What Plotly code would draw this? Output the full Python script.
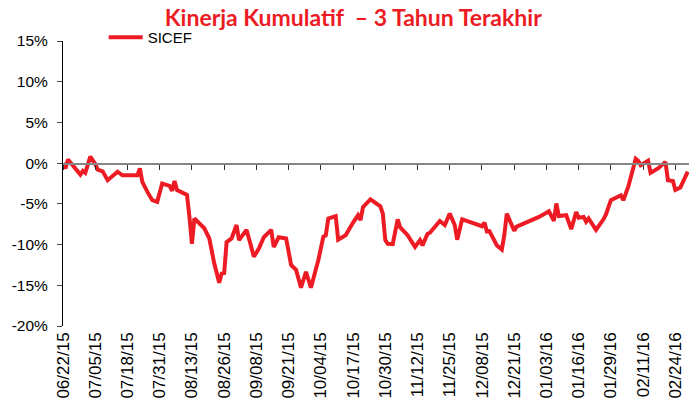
import plotly.graph_objects as go
import pandas as pd

# --- data ---
dates = [
    "2015-06-22", "2015-06-23", "2015-06-24", "2015-06-26", "2015-06-28", "2015-06-29",
    "2015-06-30", "2015-07-01", "2015-07-03", "2015-07-05", "2015-07-06", "2015-07-08",
    "2015-07-10", "2015-07-12", "2015-07-14", "2015-07-16", "2015-07-22", "2015-07-23",
    "2015-07-24", "2015-07-26", "2015-07-28", "2015-07-30", "2015-08-01", "2015-08-03",
    "2015-08-04", "2015-08-05", "2015-08-06", "2015-08-07", "2015-08-11", "2015-08-12",
    "2015-08-13", "2015-08-14", "2015-08-18", "2015-08-20", "2015-08-22", "2015-08-24",
    "2015-08-25", "2015-08-26", "2015-08-27", "2015-08-29", "2015-08-31", "2015-09-01",
    "2015-09-04", "2015-09-05", "2015-09-07", "2015-09-09", "2015-09-11", "2015-09-14",
    "2015-09-15", "2015-09-17", "2015-09-20", "2015-09-22", "2015-09-24", "2015-09-26",
    "2015-09-28", "2015-09-30", "2015-10-03", "2015-10-05", "2015-10-06", "2015-10-07",
    "2015-10-10", "2015-10-11", "2015-10-14", "2015-10-17", "2015-10-19", "2015-10-20",
    "2015-10-21", "2015-10-24", "2015-10-28", "2015-10-29", "2015-10-30", "2015-10-31",
    "2015-11-02", "2015-11-04", "2015-11-05", "2015-11-08", "2015-11-11", "2015-11-13",
    "2015-11-14", "2015-11-16", "2015-11-17", "2015-11-21", "2015-11-23", "2015-11-25",
    "2015-11-27", "2015-11-28", "2015-11-30", "2015-12-01", "2015-12-08", "2015-12-09",
    "2015-12-10", "2015-12-11", "2015-12-14", "2015-12-16", "2015-12-17", "2015-12-18",
    "2015-12-21", "2015-12-22", "2015-12-27", "2015-12-31", "2016-01-04", "2016-01-06",
    "2016-01-07", "2016-01-08", "2016-01-11", "2016-01-13", "2016-01-15", "2016-01-16",
    "2016-01-18", "2016-01-19", "2016-01-20", "2016-01-23", "2016-01-26", "2016-01-27",
    "2016-01-29", "2016-02-01", "2016-02-02", "2016-02-03", "2016-02-05", "2016-02-08",
    "2016-02-09", "2016-02-10", "2016-02-13", "2016-02-14", "2016-02-16", "2016-02-17",
    "2016-02-20", "2016-02-21", "2016-02-23", "2016-02-24", "2016-02-26", "2016-02-29",
]
sicef = [
    0.0, -0.65, 0.45, -0.25, -0.95, -1.4,
    -0.95, -1.2, 0.8, -0.1, -0.8, -1.0,
    -2.1, -1.5, -1.05, -1.5, -1.5, -0.65,
    -2.3, -3.5, -4.55, -4.75, -2.5, -2.7,
    -2.8, -3.4, -2.2, -3.3, -3.9, -6.6,
    -9.9, -6.8, -8.0, -9.25, -12.3, -14.7,
    -13.55, -13.5, -9.7, -9.25, -7.6, -9.45,
    -8.2, -9.25, -11.5, -10.5, -9.1, -8.2,
    -10.3, -9.1, -9.25, -12.5, -13.1, -15.3,
    -13.35, -15.3, -11.9, -9.05, -8.85, -6.8,
    -6.5, -9.4, -8.85, -7.3, -6.4, -7.0,
    -5.4, -4.45, -5.3, -6.2, -9.45, -9.9,
    -9.95, -6.9, -7.9, -8.85, -10.3, -9.45,
    -10.1, -8.7, -8.55, -7.1, -7.6, -6.2,
    -7.6, -9.4, -6.9, -7.0, -7.75, -7.3,
    -8.4, -8.35, -10.1, -10.6, -8.85, -6.2,
    -8.3, -7.8, -7.1, -6.6, -5.9, -7.1,
    -4.95, -6.5, -6.4, -8.1, -6.0, -6.7,
    -6.6, -7.2, -6.8, -8.2, -6.9, -6.3,
    -4.55, -4.05, -3.95, -4.55, -2.9, 0.55,
    0.3, -0.25, 0.3, -1.2, -0.8, -0.65,
    0.15, -2.1, -2.2, -3.3, -3.0, -1.05,
    -0.65, -0.4,
]
y_ticks = [15, 10, 5, 0, -5, -10, -15, -20]
y_labels = ["15%", "10%", "5%", "0%", "-5%", "-10%", "-15%", "-20%"]
tick_dates = pd.date_range("2015-06-22", "2016-02-24", freq="13D")
tick_labels = [d.strftime("%m/%d/%y") for d in tick_dates]
tick_strs = [d.strftime("%Y-%m-%d") for d in tick_dates]

title_text = "Kinerja Kumulatif  \u2013 3 Tahun Terakhir"
red = "#ED1C24"
y_min, y_max = -20, 15

fig = go.Figure()
# invisible helper trace for the zero-crossing tick axis (x2 / y2)
fig.add_trace(go.Scatter(
    x=dates, y=[max(v, 0) for v in sicef], mode="lines", showlegend=False,
    hoverinfo="skip", line=dict(color="rgba(0,0,0,0)", width=0),
    xaxis="x2", yaxis="y2",
))
fig.add_trace(go.Scatter(
    x=dates, y=sicef, mode="lines", name="SICEF",
    line=dict(color=red, width=4), xaxis="x", yaxis="y",
))

xrange = ["2015-06-22", "2016-02-29 12:00"]
zero_frac = (0 - y_min) / (y_max - y_min)
fig.update_layout(
    width=690, height=405,
    margin=dict(l=63, r=1, t=41, b=79, autoexpand=False),
    paper_bgcolor="white", plot_bgcolor="rgba(0,0,0,0)",
    font=dict(family="Liberation Sans, Arial", size=15, color="#000000"),
    title=dict(text="<b>" + title_text + "</b>", x=0.512, xanchor="center",
               y=0.955, yanchor="middle",
               font=dict(family="Lato", size=23, color=red)),
    showlegend=True,
    legend=dict(x=0.065, y=1.07, xanchor="left", yanchor="top",
                bgcolor="rgba(0,0,0,0)", font=dict(size=15),
                itemwidth=34),
    xaxis=dict(
        type="date", range=xrange, tickmode="array", tickvals=tick_strs,
        ticktext=tick_labels,
        tickangle=-90, showgrid=False, showline=False, ticks="", zeroline=False,
        tickfont=dict(size=17), anchor="y", automargin=False, ticklabelstandoff=2,
    ),
    xaxis2=dict(
        type="date", range=xrange, tickmode="array", tickvals=tick_strs,
        anchor="y2", side="bottom", showticklabels=False,
        showline=True, linecolor="#868686", linewidth=1.5,
        ticks="outside", ticklen=5, tickcolor="#333333", tickwidth=1.2,
        showgrid=False, zeroline=False, automargin=False,
    ),
    yaxis=dict(
        range=[y_min, y_max], tickvals=y_ticks, ticktext=y_labels,
        showgrid=False, zeroline=False, showline=True, linecolor="#000000",
        linewidth=1, ticks="outside", ticklen=5, tickfont=dict(size=15.5),
        automargin=False, ticklabelstandoff=6,
    ),
    yaxis2=dict(
        domain=[zero_frac, 1], range=[0, y_max], anchor="x2",
        showticklabels=False, showline=False, ticks="", showgrid=False,
        zeroline=False, automargin=False,
    ),
)

fig.write_html(
    "out.html",
    config={"displayModeBar": False},
    post_script="document.body.style.margin='0px';document.body.style.overflow='hidden';",
)
